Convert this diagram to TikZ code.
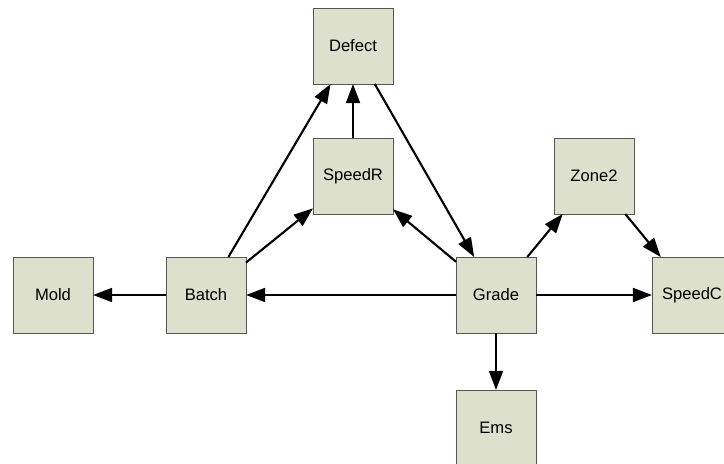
\documentclass[tikz,border=0pt]{standalone}
\usepackage{fontspec}
\setmainfont{Liberation Sans}
\usetikzlibrary{arrows.meta}
\definecolor{boxfill}{RGB}{221,224,204}
\definecolor{boxline}{RGB}{85,85,85}

\begin{document}
\begin{tikzpicture}[
  x=0.025cm, y=-0.025cm,
  font=\fontsize{11.8}{14}\selectfont,
  >={Triangle[length=0.48cm, width=0.35cm]},
  box/.style={draw=boxline, fill=boxfill, line width=0.6pt, minimum width=2cm, minimum height=1.9cm, inner sep=0pt, outer sep=0pt},
  arr/.style={->, line width=1.5pt}
]
\useasboundingbox (0,0) rectangle (724,464);
\node[box] (Defect) at (353,46) {Defect};
\node[box] (SpeedR) at (353,176) {SpeedR};
\node[box] (Zone2) at (594,176) {Zone2};
\node[box] (Mold) at (53,295) {Mold};
\node[box] (Batch) at (206,295) {Batch};
\node[box] (Grade) at (496,295) {Grade};
\node[box] (SpeedC) at (692,295) {SpeedC};
\node[box] (Ems) at (496,428) {Ems};

\draw[arr] (Batch) -- (Mold);
\draw[arr] (Batch) -- (Defect);
\draw[arr] (Batch) -- (SpeedR);
\draw[arr] (SpeedR) -- (Defect);
\draw[arr] (Defect) -- (Grade);
\draw[arr] (Grade) -- (Batch);
\draw[arr] (Grade) -- (SpeedR);
\draw[arr] (Grade) -- (Zone2);
\draw[arr] (Zone2) -- (SpeedC);
\draw[arr] (Grade) -- (SpeedC);
\draw[arr] (Grade) -- (Ems);
\end{tikzpicture}
\end{document}
